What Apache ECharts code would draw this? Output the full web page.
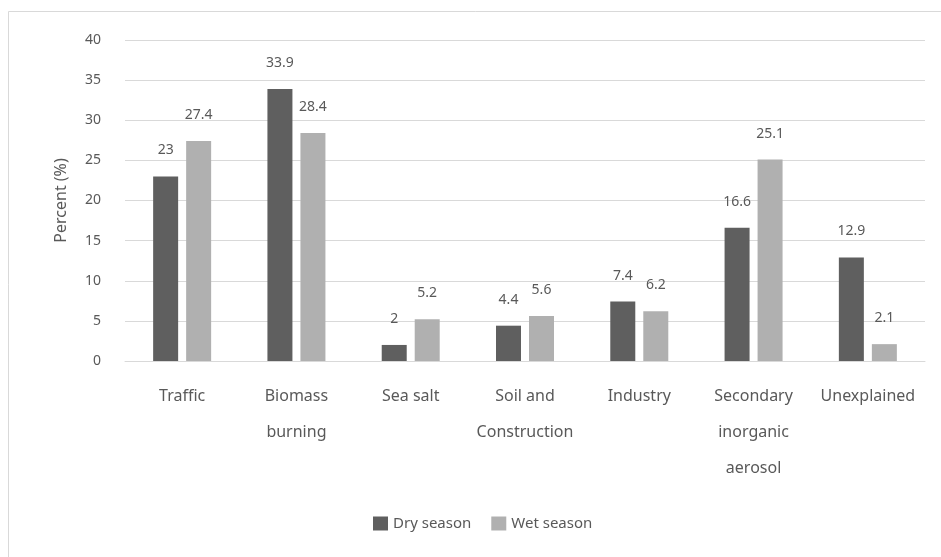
<!DOCTYPE html>
<html>
<head>
<meta charset="utf-8">
<script src="https://cdn.jsdelivr.net/npm/echarts@6/dist/echarts.min.js"></script>
<style>
  html, body { margin: 0; padding: 0; background: #fff; }
  #chart { width: 941px; height: 557px; }
</style>
</head>
<body>
<div id="chart"></div>
<script>
// Source categories (newline splits long names over several lines)
const categories = [
  'Traffic',
  'Biomass\nburning',
  'Sea salt',
  'Soil and\nConstruction',
  'Industry',
  'Secondary\ninorganic\naerosol',
  'Unexplained'
];
const drySeason = [23, 33.9, 2, 4.4, 7.4, 16.6, 12.9];
const wetSeason = [27.4, 28.4, 5.2, 5.6, 6.2, 25.1, 2.1];
const seriesNames = ['Dry season', 'Wet season'];

const textColor = '#595959';
const fontFamily = '"Noto Sans", sans-serif';

const chart = echarts.init(document.getElementById('chart'), null, { renderer: 'canvas' });

const valueLabel = {
  show: true,
  position: 'top',
  distance: 19,
  color: textColor,
  fontFamily: fontFamily,
  fontSize: 14
};

chart.setOption({
  animation: false,
  backgroundColor: '#fff',
  graphic: [{
    type: 'rect',
    shape: { x: 8.5, y: 11.5, width: 960, height: 600 },
    style: { fill: 'none', stroke: '#d9d9d9', lineWidth: 1 },
    silent: true
  }],
  grid: { left: 125, right: 16, top: 40, bottom: 196 },
  legend: {
    data: seriesNames,
    left: 368,
    top: 511,
    itemWidth: 15,
    itemHeight: 14,
    itemGap: 20,
    icon: 'rect',
    textStyle: { color: textColor, fontFamily: fontFamily, fontSize: 15 }
  },
  xAxis: {
    type: 'category',
    data: categories,
    axisLine: { show: true, lineStyle: { color: '#d9d9d9', width: 1 } },
    axisTick: { show: false },
    axisLabel: {
      color: textColor,
      fontFamily: fontFamily,
      fontSize: 16,
      margin: 17,
      lineHeight: 36,
      interval: 0
    }
  },
  yAxis: {
    type: 'value',
    min: 0,
    max: 40,
    interval: 5,
    name: 'Percent (%)',
    nameLocation: 'middle',
    nameGap: 56,
    nameRotate: 90,
    nameTextStyle: { color: textColor, fontFamily: fontFamily, fontSize: 16 },
    axisLine: { show: false },
    axisTick: { show: false },
    axisLabel: { color: textColor, fontFamily: fontFamily, fontSize: 14, margin: 24 },
    splitLine: { lineStyle: { color: '#d9d9d9', width: 1 } }
  },
  series: [
    {
      name: seriesNames[0],
      type: 'bar',
      data: drySeason,
      barWidth: 25,
      barGap: '32%',
      itemStyle: { color: '#5f5f5f' },
      label: valueLabel
    },
    {
      name: seriesNames[1],
      type: 'bar',
      data: wetSeason,
      barWidth: 25,
      barGap: '32%',
      itemStyle: { color: '#b0b0b0' },
      label: valueLabel
    }
  ]
});
</script>
</body>
</html>
